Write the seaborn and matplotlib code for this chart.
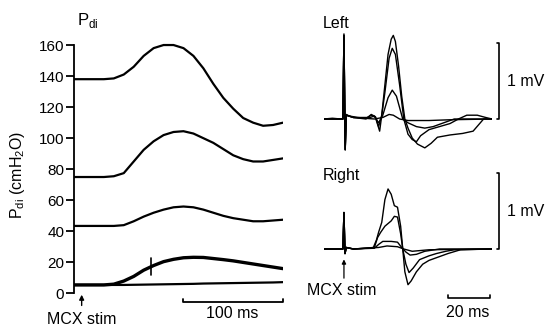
import numpy as np
import pandas as pd
import seaborn as sns
import matplotlib
matplotlib.use('Agg')
import matplotlib.pyplot as plt

sns.set_style('ticks')
plt.rcParams['font.family'] = ['Liberation Sans', 'DejaVu Sans']
plt.rcParams['font.size'] = 11.5
for k in ['text.color', 'axes.labelcolor', 'xtick.color', 'ytick.color', 'axes.edgecolor']:
    plt.rcParams[k] = 'black'

# ---- Pdi traces (left panel), time in ms, cmH2O
pdi_t = [0, 10, 20, 30, 40, 50, 60, 70, 80, 90, 100, 110, 120, 130, 140, 150, 160, 170, 180, 190, 200, 210]
pdi_1 = [138, 138, 138, 138, 138.5, 141, 146, 153, 158, 160, 160, 158, 153, 145, 135, 126, 119, 113, 110, 108, 108.5, 110]
pdi_2 = [75, 75, 75, 75, 75.5, 77.5, 85, 92.5, 98, 102, 104, 104.5, 103, 100, 97, 93, 89, 86.5, 85, 85, 86, 87]
pdi_3 = [43.5, 43.5, 43.5, 43.5, 43.5, 44, 46.5, 49.5, 52, 54, 55.5, 56, 55.5, 54, 52, 50, 48.5, 47.5, 46.5, 46.5, 47, 47.5]
pdi_4 = [5.5, 5.5, 5.5, 5.5, 6, 8, 11, 15, 18, 20.5, 22, 23, 23.3, 23.2, 22.5, 21.8, 21, 20, 19, 18, 17, 16]
pdi_5 = [5.5, 5.5, 5.5, 5.5, 5.5, 5.5, 5.6, 5.7, 5.8, 5.9, 6, 6.1, 6.2, 6.4, 6.5, 6.6, 6.7, 6.8, 6.9, 7.0, 7.1, 7.3]
pdi_yticks = [0, 20, 40, 60, 80, 100, 120, 140, 160]

# ---- EMG traces, time in ms, mV
left_t1 = [0, 4, 8, 9, 9.5, 10.1, 10.6, 12, 16, 20, 22.5, 24.5, 26.5, 27.5, 29, 30.5, 32, 33, 34, 35.5, 37, 38.5,
           40, 42, 44.5, 48, 51, 54, 60, 66, 71, 73.5, 76, 80]
left_v1 = [0, 0.01, 0, 0, 1.12, -0.41, 0.06, 0.04, 0.02, 0.01, 0.05, 0.02, -0.16, 0.05, 0.45, 0.85, 1.05, 1.1, 1.02, 0.7, 0.3, 0.0,
           -0.12, -0.25, -0.33, -0.38, -0.32, -0.24, -0.21, -0.19, -0.16, -0.08, 0, 0]
left_t2 = [0, 9, 9.5, 10.1, 10.6, 14, 20, 22.5, 24.5, 26, 27.5, 29, 31, 32.5, 34, 36, 38, 40, 42, 44, 46, 50, 55, 60, 64, 68, 73, 77, 80]
left_v2 = [0, 0, 1.1, -0.4, 0.05, 0.02, 0, 0.06, 0.03, -0.1, 0.05, 0.35, 0.8, 0.93, 0.85, 0.45, 0.0, -0.2, -0.27, -0.3, -0.22, -0.14, -0.1, -0.06, 0, 0.05, 0.05, 0.02, 0]
left_t3 = [0, 9, 9.5, 10.1, 10.6, 14, 22, 24, 26, 28, 30.5, 32.5, 34.5, 37.5, 40, 44, 48, 52, 57, 62, 80]
left_v3 = [0, 0, 1.1, -0.4, 0.05, 0.02, 0.02, 0.04, -0.05, 0.05, 0.28, 0.38, 0.3, 0.0, -0.05, -0.1, -0.12, -0.1, -0.05, 0, 0]
left_t4 = [0, 9, 9.5, 10.1, 10.6, 14, 24, 28, 31, 33, 36, 40, 50, 60, 80]
left_v4 = [0, 0, 1.1, -0.4, 0.05, 0.02, 0.0, 0.02, 0.06, 0.05, 0.0, -0.02, -0.02, -0.01, 0]

right_t1 = [0, 9, 9.5, 10, 10.6, 14, 20, 23.5, 25, 26, 27.5, 29, 30.5, 32, 33.5, 35, 36.5, 37.5, 38.5, 40, 41.5, 44, 47, 50, 55, 59, 65, 80]
right_v1 = [0, 0, 0.48, -0.06, 0.02, 0, 0.01, 0.02, 0.12, 0.22, 0.35, 0.65, 0.79, 0.72, 0.57, 0.55, 0.3, 0.0, -0.3, -0.47, -0.42, -0.3, -0.2, -0.15, -0.1, -0.06, -0.01, 0]
right_t2 = [0, 9, 9.5, 10, 10.6, 14, 24, 25.5, 27, 29, 32, 33.5, 35, 36.5, 37.5, 39, 40.5, 42.5, 45.5, 50, 53.5, 58, 62, 80]
right_v2 = [0, 0, 0.48, -0.06, 0.02, 0, 0.02, 0.15, 0.22, 0.3, 0.37, 0.43, 0.42, 0.2, 0.0, -0.2, -0.31, -0.25, -0.14, -0.09, -0.06, -0.03, -0.01, 0]
right_t3 = [0, 9, 9.5, 10, 10.6, 14, 24, 26, 28, 32, 35, 37, 39, 41, 44, 48, 55, 80]
right_v3 = [0, 0, 0.48, -0.06, 0.02, 0, 0.01, 0.06, 0.1, 0.1, 0.09, 0.02, -0.04, -0.08, -0.07, -0.03, 0, 0]
right_t4 = [0, 9, 9.5, 10, 10.6, 14, 26, 30, 35, 38, 42, 50, 80]
right_v4 = [0, 0, 0.48, -0.06, 0.02, 0, 0.02, 0.04, 0.03, 0, -0.03, -0.01, 0]

W, H = 546, 333
fig = plt.figure(figsize=(W / 100, H / 100), dpi=100)


def box(x0, x1, ytop, ybot):
    return [x0 / W, (H - ybot) / H, (x1 - x0) / W, (ybot - ytop) / H]


# ---------- left panel
ax1 = fig.add_axes(box(74, 283, 29.5, 332.3))
ax1.patch.set_alpha(0)
for vals, lw in [(pdi_1, 1.6), (pdi_2, 1.6), (pdi_3, 1.6), (pdi_4, 2.4), (pdi_5, 1.6)]:
    sns.lineplot(x=pdi_t, y=vals, ax=ax1, color='black', lw=lw, estimator=None, sort=False)
ax1.set_xlim(0, 210)
ax1.set_ylim(-25, 170)
ax1.set_xticks([])
ax1.set_yticks(pdi_yticks)
ax1.tick_params(axis='y', length=6, width=1.3, pad=1, labelsize=11)
for s in ['top', 'right', 'bottom']:
    ax1.spines[s].set_visible(False)
ax1.spines['left'].set_bounds(0, 160)
ax1.spines['left'].set_linewidth(1.3)
ax1.set_ylabel(r'P$_\mathregular{di}$ (cmH$_\mathregular{2}$O)', fontsize=11.5)
ax1.yaxis.set_label_coords(-0.225, 0.52)
ax1.text(3.5, 176, r'P$_\mathregular{di}$', fontsize=12, ha='left', va='center')
# marker on the thick trace
ax1.plot([77, 77], [12, 23], color='black', lw=1.2)
# 100 ms scale bar
ax1.plot([110, 110, 210, 210], [-3.3, -5.3, -5.3, -3.3], color='black', lw=1.3, clip_on=False)
ax1.text(159, -12.6, '100 ms', ha='center', va='center')
# stimulus arrow
ax1.annotate('', xy=(7.7, 1), xytext=(7.7, -9.5),
             arrowprops=dict(arrowstyle='-|>', color='black', lw=1, mutation_scale=7),
             annotation_clip=False)
ax1.text(7.7, -17, 'MCX stim', ha='center', va='center')

# ---------- right panels
ax2 = fig.add_axes(box(324, 492, 16.4, 164.6))
ax3 = fig.add_axes(box(324, 492, 165.4, 302.2))
top = [(left_t1, left_v1), (left_t2, left_v2), (left_t3, left_v3), (left_t4, left_v4)]
bot = [(right_t1, right_v1), (right_t2, right_v2), (right_t3, right_v3), (right_t4, right_v4)]
for ax, traces, ylim in [(ax2, top, (-0.6, 1.35)), (ax3, bot, (-0.7, 1.1))]:
    ax.patch.set_alpha(0)
    for t, v in traces:
        sns.lineplot(x=t, y=v, ax=ax, color='black', lw=1.0, estimator=None, sort=False)
    ax.set_xlim(0, 80)
    ax.set_ylim(*ylim)
    ax.set_xticks([])
    ax.set_yticks([])
    for s in ax.spines.values():
        s.set_visible(False)
    # 1 mV bracket
    ax.plot([82.2, 83.5, 83.5, 82.2], [1, 1, 0, 0], color='black', lw=1.2, clip_on=False)
    ax.text(87, 0.5, '1 mV', ha='left', va='center')

ax2.text(-0.5, 1.26, 'Left', ha='left', va='center')
ax3.text(-0.5, 0.97, 'Right', ha='left', va='center')
ax3.annotate('', xy=(9.5, -0.1), xytext=(9.5, -0.42),
             arrowprops=dict(arrowstyle='-|>', color='black', lw=0.9, mutation_scale=6),
             annotation_clip=False)
ax3.text(8.4, -0.54, 'MCX stim', ha='center', va='center')
ax3.plot([59, 59, 79, 79], [-0.61, -0.65, -0.65, -0.61], color='black', lw=1.2, clip_on=False)
ax3.text(68.6, -0.84, '20 ms', ha='center', va='center')

fig.savefig('out.png', dpi=100)
